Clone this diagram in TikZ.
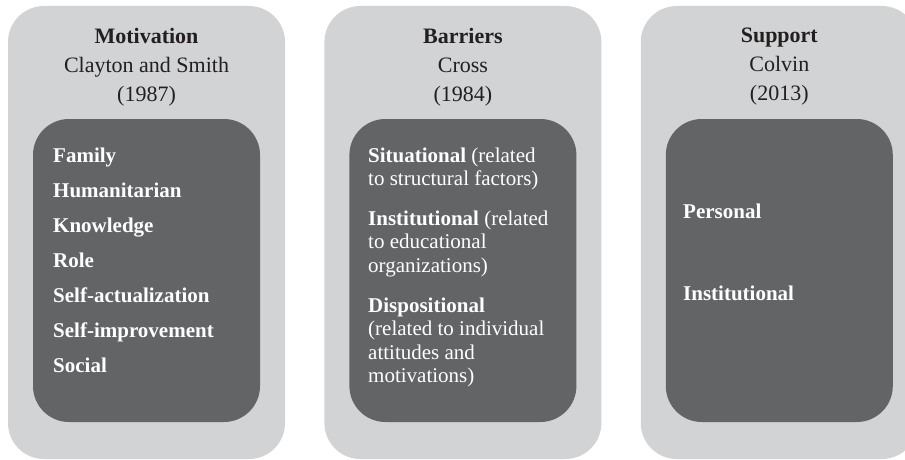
\documentclass[tikz,border=0pt]{standalone}
\usepackage{fontspec}
\setmainfont{Liberation Serif}
\usepackage{xcolor}
\usetikzlibrary{positioning}
\definecolor{panelgray}{HTML}{D1D3D4}
\definecolor{boxgray}{HTML}{636466}
\definecolor{headblack}{HTML}{231F20}
\tikzset{%
	panel/.style    = {fill=panelgray, rounded corners=36pt, inner sep=0pt,
		minimum width=277pt, minimum height=453pt},
	catbox/.style   = {fill=boxgray, rounded corners=36pt, inner sep=0pt,
		minimum width=227pt, minimum height=303pt},
	head/.style     = {align=center, inner sep=0pt, text=headblack,
		font=\fontsize{22}{29}\selectfont},
	entry/.style    = {anchor=base west, align=left, inner sep=0pt, text=white,
		font=\fontsize{21}{23.5}\selectfont}
}

\begin{document}
\begin{tikzpicture}[x=1pt, y=-1pt]
	\useasboundingbox (0,0) rectangle (905,460);
	\clip (0,0) rectangle (905,460);
	\draw
		node at (146.5,232.5)[panel, name=mot]{}
		node [panel, right=39pt of mot] (bar) {}
		node [panel, right=39pt of bar] (sup) {}
		
		node [catbox, below=113pt of mot.north] (motbox) {}
		node [catbox, below=113pt of bar.north] (barbox) {}
		node [catbox, below=113pt of sup.north] (supbox) {}
		
		node [head, below=22pt of mot.north] (mothead) {\textbf{Motivation}\\Clayton and Smith\\(1987)}
		node [head, below=22pt of bar.north] (barhead) {\textbf{Barriers}\\Cross\\(1984)}
		node [head, below=22pt of sup.north] (suphead) {\textbf{Support}\\Colvin\\(2013)};
	
	\foreach \word [count=\i] in {Family, Humanitarian, Knowledge, Role,
		Self-actualization, Self-improvement, Social}
		\node [entry] (mot\i) at (53,127+35*\i) {\textbf{\word}};
	
	% base of a multi-line entry is its last line
	\node [entry] (sit) at (368,185.5) {\textbf{Situational} (related\\to structural factors)};
	\node [entry] (ins) at (368,272) {\textbf{Institutional} (related\\to educational\\organizations)};
	\node [entry] (dis) at (368,382.5) {\textbf{Dispositional}\\(related to individual\\attitudes and\\motivations)};
	
	\node [entry] (per) at (683,218) {\textbf{Personal}};
	\node [entry] (supins) at (683,300) {\textbf{Institutional}};
\end{tikzpicture}
\end{document}
